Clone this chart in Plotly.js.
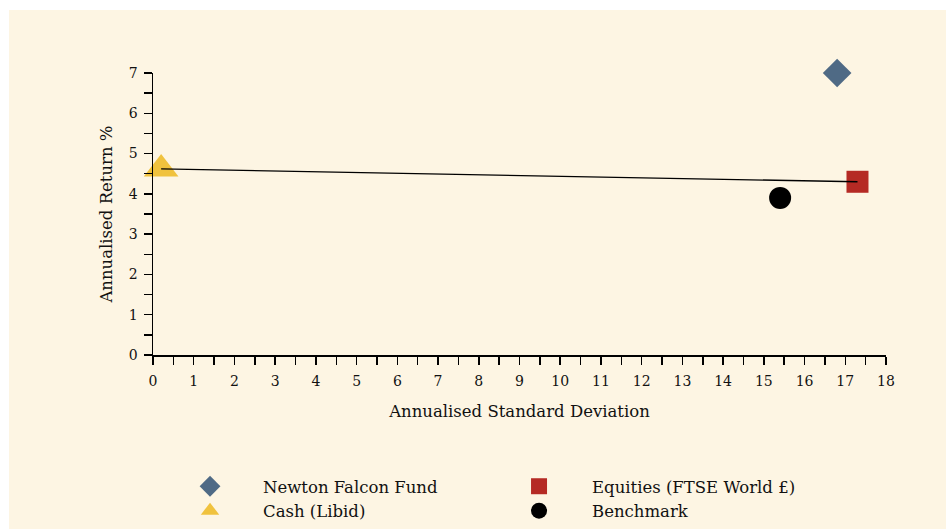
<!DOCTYPE html>
<html>
<head>
<meta charset="utf-8">
<script src="https://cdn.plot.ly/plotly-3.0.1.min.js"></script>
<style>
  html, body { margin: 0; padding: 0; background: #ffffff; }
  #chart { position: absolute; left: 9px; top: 10px; width: 937px; height: 519px; }
</style>
</head>
<body>
<div id="chart"></div>
<script>
// Data
const seriesNames = ["Newton Falcon Fund", "Equities (FTSE World £)", "Cash (Libid)", "Benchmark"];
const stdDev = [16.8, 17.3, 0.2, 15.4];      // Annualised Standard Deviation
const annReturn = [7.0, 4.3, 4.62, 3.9];    // Annualised Return %
const lineX = [0.2, 17.3];                   // Cash -> Equities line
const lineY = [4.62, 4.3];

const colors = ["#4f6a85", "#b52a24", "#f0c23e", "#000000"];
const symbols = ["diamond", "square", "triangle-up", "circle"];
const sizes = [22, 22, 30, 22];

const fontFam = "DejaVu Serif, serif";
const traces = seriesNames.map((n, i) => ({
  type: "scatter",
  mode: "markers",
  name: n,
  x: [stdDev[i]],
  y: [annReturn[i]],
  cliponaxis: false,
  marker: { color: colors[i], symbol: symbols[i], size: sizes[i], line: { width: 0 } },
  hoverinfo: "x+y+name"
}));
traces.push({
  type: "scatter",
  mode: "lines",
  x: lineX,
  y: lineY,
  cliponaxis: false,
  line: { color: "#000000", width: 1.3 },
  showlegend: false,
  hoverinfo: "skip"
});

const axisCommon = {
  showgrid: false,
  zeroline: false,
  showline: true,
  linecolor: "#000000",
  linewidth: 1.5,
  ticks: "outside",
  ticklen: 8,
  tickwidth: 1.5,
  tickcolor: "#000000",
  dtick: 1,
  tickfont: { family: fontFam, size: 14, color: "#111111" },
  minor: { dtick: 0.5, ticks: "outside", ticklen: 8, tickwidth: 1.5, tickcolor: "#000000", showgrid: false }
};

const layout = {
  width: 937,
  height: 519,
  paper_bgcolor: "#fdf5e3",
  plot_bgcolor: "#fdf5e3",
  margin: { l: 144, r: 60, t: 63, b: 174 },
  font: { family: fontFam, color: "#111111" },
  xaxis: Object.assign({}, axisCommon, {
    range: [0, 18],
    ticklabelstandoff: 5,
    title: { text: "Annualised Standard Deviation", font: { family: fontFam, size: 16.5, color: "#111111" }, standoff: 17 }
  }),
  yaxis: Object.assign({}, axisCommon, {
    range: [0, 7],
    ticklabelstandoff: 3,
    title: { text: "Annualised Return %", font: { family: fontFam, size: 16.5, color: "#111111" }, standoff: 12 }
  }),
  showlegend: true,
  legend: {
    orientation: "h",
    xref: "paper",
    x: 0.0055,
    xanchor: "left",
    yref: "container",
    y: 0.1156,
    yanchor: "top",
    entrywidth: 218,
    itemwidth: 96,
    bgcolor: "rgba(0,0,0,0)",
    font: { family: fontFam, size: 16.5, color: "#111111" },
    tracegroupgap: 0
  }
};

Plotly.newPlot("chart", traces, layout, { displayModeBar: false, staticPlot: true });
</script>
</body>
</html>
